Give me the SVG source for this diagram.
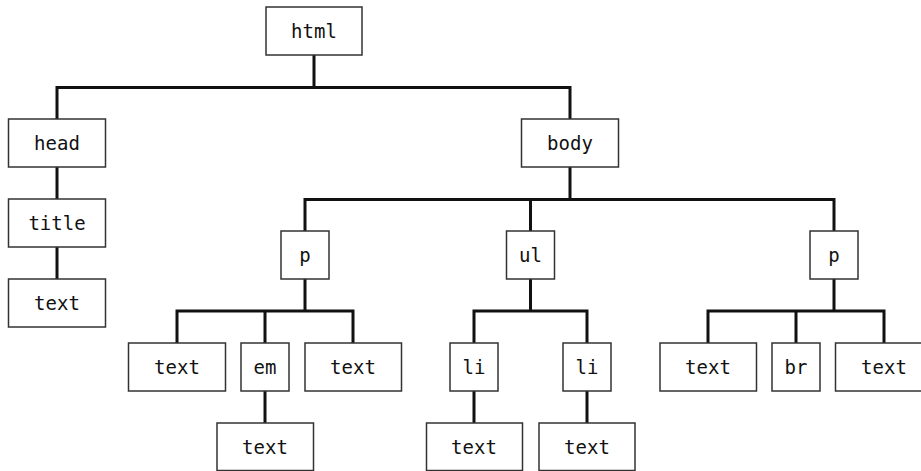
<svg xmlns="http://www.w3.org/2000/svg" width="921" height="471" viewBox="0 0 921 471">
<style>
.n rect{fill:#fff;stroke:#333;stroke-width:1.5}
.n text{font-family:"DejaVu Sans Mono","Liberation Mono",monospace;font-size:19px;fill:#111;text-anchor:middle}
#conn path{fill:none;stroke:#111;stroke-width:3}
</style>
<rect width="921" height="471" fill="#fff"/>
<g id="conn">
<path d="M314 55V87.5M57 119V87.5H570V119"/>
<path d="M57 167V199"/>
<path d="M57 247V279"/>
<path d="M570 167V199.5M305 231V199.5H834V231M530.5 199.5V231"/>
<path d="M305 279V311M177 343V311H353V343M265 311V343"/>
<path d="M265 391V423"/>
<path d="M530.5 279V311M474 343V311H587V343"/>
<path d="M474 391V423M587 391V423"/>
<path d="M834 279V311M708 343V311H884V343M796 311V343"/>
</g>
<g id="html" class="n"><rect x="266" y="7" width="96" height="48"/><text x="314" y="37.5">html</text></g>
<g id="head" class="n"><rect x="8.5" y="119" width="97" height="48"/><text x="57" y="150">head</text></g>
<g id="title" class="n"><rect x="8.5" y="199" width="97" height="48"/><text x="57" y="230">title</text></g>
<g id="head-text" class="n"><rect x="8.5" y="279" width="97" height="48"/><text x="57" y="310">text</text></g>
<g id="body" class="n"><rect x="521.5" y="119" width="97" height="48"/><text x="570" y="150">body</text></g>
<g id="p1" class="n"><rect x="281" y="231" width="48" height="48"/><text x="305" y="262">p</text></g>
<g id="ul" class="n"><rect x="506.5" y="231" width="48" height="48"/><text x="530.5" y="262">ul</text></g>
<g id="p2" class="n"><rect x="810" y="231" width="48" height="48"/><text x="834" y="262">p</text></g>
<g id="p1-text1" class="n"><rect x="128.5" y="343" width="97" height="48"/><text x="177" y="374">text</text></g>
<g id="em" class="n"><rect x="241" y="343" width="48" height="48"/><text x="265" y="374">em</text></g>
<g id="p1-text2" class="n"><rect x="305" y="343" width="96.5" height="48"/><text x="353" y="374">text</text></g>
<g id="em-text" class="n"><rect x="217" y="423" width="96.5" height="47.5"/><text x="265" y="454">text</text></g>
<g id="li1" class="n"><rect x="450" y="343" width="48" height="48"/><text x="474" y="374">li</text></g>
<g id="li2" class="n"><rect x="563" y="343" width="48" height="48"/><text x="587" y="374">li</text></g>
<g id="li1-text" class="n"><rect x="426.5" y="423" width="96" height="47.5"/><text x="474" y="454">text</text></g>
<g id="li2-text" class="n"><rect x="539" y="423" width="96" height="47.5"/><text x="587" y="454">text</text></g>
<g id="p2-text1" class="n"><rect x="660" y="343" width="96.5" height="48"/><text x="708" y="374">text</text></g>
<g id="br" class="n"><rect x="772" y="343" width="48" height="48"/><text x="796" y="374">br</text></g>
<g id="p2-text2" class="n"><rect x="835.5" y="343" width="96.5" height="48"/><text x="884" y="374">text</text></g>
</svg>
